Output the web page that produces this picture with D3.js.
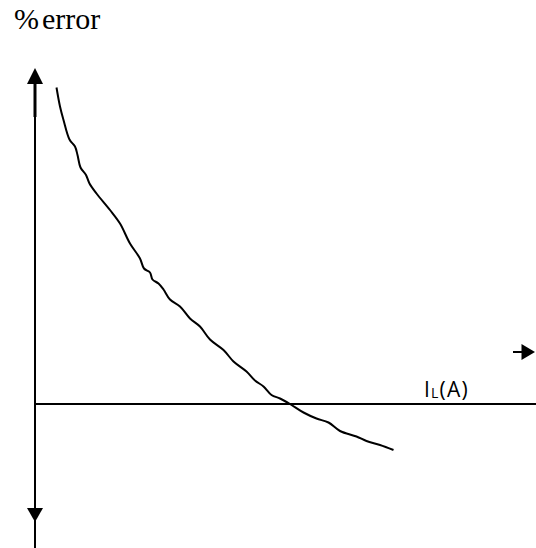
<!DOCTYPE html>
<html>
<head>
<meta charset="utf-8">
<script src="https://cdn.jsdelivr.net/npm/d3@7"></script>
<style>
  html, body { margin: 0; padding: 0; background: #fff; }
  svg { display: block; }
</style>
</head>
<body>
<div id="chart"></div>
<script>
// Curva dibujada a mano: corriente de carga (unidades arbitrarias) vs % de error
const currentVals = [0.43, 0.5, 0.57, 0.69, 0.8, 0.85, 0.91, 1.02, 1.09, 1.23, 1.5, 1.7, 1.9, 2.1, 2.18, 2.3, 2.35, 2.47, 2.57, 2.7, 2.9, 3.1, 3.3, 3.5, 3.77, 3.97, 4.23, 4.4, 4.57, 4.73, 4.9, 5.1, 5.37, 5.63, 5.87, 6.1, 6.43, 6.63, 6.9, 7.17];
const errorVals = [6.33, 5.95, 5.68, 5.29, 5.15, 4.98, 4.73, 4.58, 4.41, 4.21, 3.88, 3.61, 3.21, 2.91, 2.71, 2.63, 2.49, 2.41, 2.29, 2.09, 1.95, 1.71, 1.55, 1.29, 1.08, 0.85, 0.65, 0.47, 0.35, 0.18, 0.11, 0, -0.17, -0.29, -0.37, -0.54, -0.65, -0.74, -0.82, -0.92];
const yAxisLabel = ['%', 'error'];
const xAxisLabel = ['I', 'L', '(A)'];

const width = 536;
const height = 548;

const x = d3.scaleLinear().domain([0, 10]).range([35, 535]);
const y = d3.scaleLinear().domain([-3, 7]).range([554, 54]);

const svg = d3.select('#chart').append('svg').attr('width', width).attr('height', height);

// ejes
svg.append('line').attr('x1', x(0)).attr('x2', x(0)).attr('y1', y(6.4)).attr('y2', height)
  .attr('stroke', '#000').attr('stroke-width', 2);
svg.append('line').attr('x1', x(0)).attr('x2', x(0)).attr('y1', y(6.4)).attr('y2', y(5.74))
  .attr('stroke', '#000').attr('stroke-width', 3);
svg.append('line').attr('x1', x(0)).attr('x2', width).attr('y1', y(0)).attr('y2', y(0))
  .attr('stroke', '#000').attr('stroke-width', 2);

// flechas
const x0 = x(0);
svg.append('path')
  .attr('d', `M${x0},${y(6.72)} L${x0 - 8},${y(6.4)} L${x0 + 8},${y(6.4)} Z`)
  .attr('fill', '#000');
svg.append('path')
  .attr('d', `M${x0},${y(-2.36)} L${x0 - 8},${y(-2.08)} L${x0 + 8},${y(-2.08)} Z`)
  .attr('fill', '#000');

const ay = y(1.04);
svg.append('line').attr('x1', x(9.56)).attr('x2', x(9.9)).attr('y1', ay).attr('y2', ay)
  .attr('stroke', '#000').attr('stroke-width', 2);
svg.append('path')
  .attr('d', `M${x(10)},${ay} L${x(9.73)},${ay - 8} L${x(9.73)},${ay + 8} Z`)
  .attr('fill', '#000');

// curva
const pts = currentVals.map((c, i) => [c, errorVals[i]]);
const line = d3.line().x((d) => x(d[0])).y((d) => y(d[1])).curve(d3.curveCatmullRom);
svg.append('path').datum(pts).attr('d', line)
  .attr('fill', 'none').attr('stroke', '#000').attr('stroke-width', 2).attr('stroke-linejoin', 'round');

// textos
const ylab = svg.append('text').attr('x', 14).attr('y', 29)
  .attr('font-family', '"Liberation Serif", "Times New Roman", serif').attr('font-size', 30);
ylab.append('tspan').text(yAxisLabel[0]);
ylab.append('tspan').attr('dx', 3).text(yAxisLabel[1]);

const lab = svg.append('text').attr('x', 424).attr('y', 397)
  .attr('font-family', '"Open Sans", "Liberation Sans", sans-serif').attr('font-size', 21)
  .attr('letter-spacing', 1.2);
lab.append('tspan').text(xAxisLabel[0]);
lab.append('tspan').attr('font-size', 14).attr('dy', 1).text(xAxisLabel[1]);
lab.append('tspan').attr('dy', -1).text(xAxisLabel[2]);
</script>
</body>
</html>
